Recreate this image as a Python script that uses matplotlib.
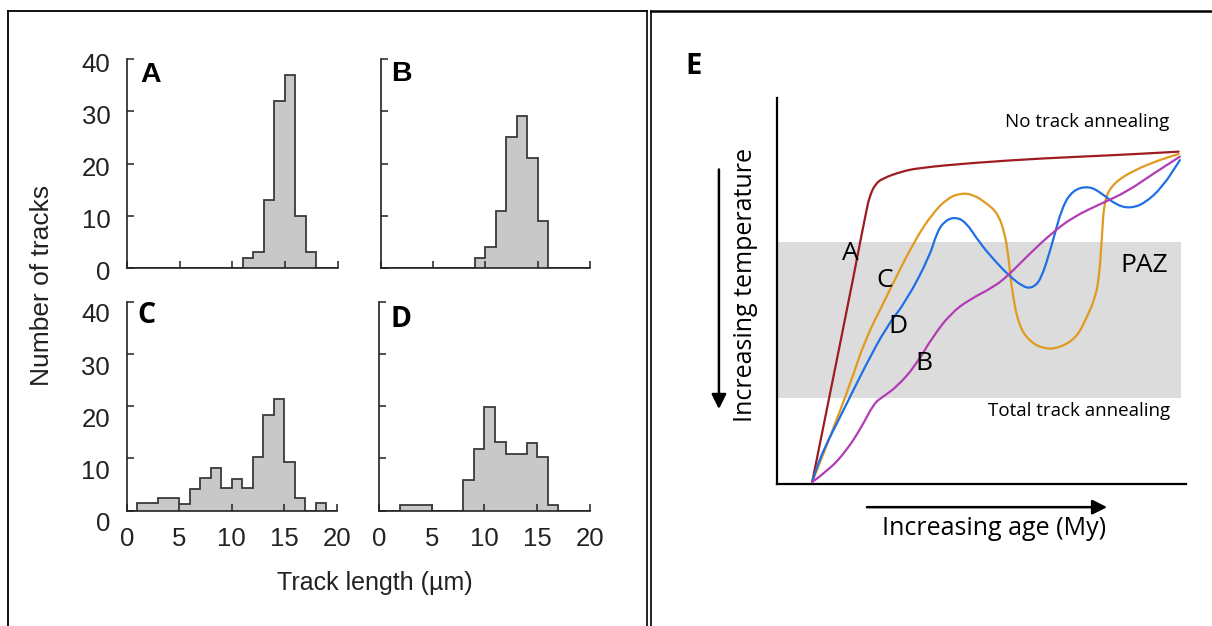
import numpy as np
import matplotlib
matplotlib.use("Agg")
import matplotlib.pyplot as plt
from matplotlib.lines import Line2D
from matplotlib.path import Path
from matplotlib.patches import PathPatch, Rectangle
from matplotlib.transforms import ScaledTranslation

# ---------------- data ----------------
bin_edges = list(range(0, 21))  # track length bins (µm)
counts_A = [0, 0, 0, 0, 0, 0, 0, 0, 0, 0, 0, 2, 3, 13, 32, 37, 10, 3, 0, 0]
counts_B = [0, 0, 0, 0, 0, 0, 0, 0, 0, 2, 4, 11, 25, 29, 21, 9, 0, 0, 0, 0]
counts_C = [0, 1.5, 1.5, 2.4, 2.4, 1.3, 4.1, 6.2, 8.1, 4.3, 6.1, 4.3, 10.2, 18.3, 21.4, 9.4, 2.4, 0, 1.4, 0]
counts_D = [0, 0, 1, 1, 1, 0, 0, 0, 5.8, 11.8, 19.9, 13.2, 10.8, 10.8, 12.9, 10.3, 1.1, 0, 0, 0]
panel_letters = ["A", "B", "C", "D"]
x_ticks = [0, 5, 10, 15, 20]
y_ticks = [0, 10, 20, 30, 40]

# Panel E: schematic thermal histories (age 0-100, temperature index 0-100)
curveA_x = [8.6, 17.6, 19.8, 21.8, 22.6, 24.0, 25.9, 30.3, 34.7, 47.8, 65.3, 82.9, 98.2]
curveA_y = [0.5, 47.7, 59.8, 70.5, 74.4, 77.7, 79.2, 80.9, 81.9, 83.2, 84.4, 85.2, 86.1]
curveC_x = [8.6, 12.7, 18.0, 21.5, 26.4, 27.9, 33.7, 38.1, 41.7, 44.7, 47.8, 51.3, 54.0, 55.7,
            56.6, 57.5, 59.2, 61.9, 65.3, 68.9, 73.2, 75.8, 77.6, 78.7, 79.4, 80.0, 82.2, 87.3, 93.4, 98.2]
curveC_y = [0.5, 11.4, 26.2, 37.3, 47.7, 51.0, 63.2, 70.2, 74.0, 75.3, 75.1, 72.7, 70.1, 64.9,
            58.9, 49.5, 40.8, 36.8, 35.0, 35.2, 37.8, 43.3, 47.7, 52.8, 63.2, 73.6, 77.9, 81.3, 83.9, 85.5]
curveD_x = [8.6, 10.1, 16.3, 21.5, 26.8, 31.5, 37.3, 39.0, 40.8, 43.4, 46.1, 49.6, 53.1, 56.6,
            60.1, 62.3, 64.5, 67.1, 69.7, 72.4, 76.3, 79.4, 82.9, 86.3, 89.9, 94.3, 98.5]
curveD_y = [0.5, 6.2, 19.2, 30.4, 40.8, 47.2, 58.9, 64.9, 68.0, 69.2, 68.0, 62.4, 58.0, 54.1,
            51.1, 50.7, 52.8, 61.5, 71.8, 76.2, 77.2, 75.3, 72.3, 71.4, 72.7, 77.0, 83.9]
curveB_x = [8.6, 12.7, 17.1, 20.7, 23.7, 25.9, 29.3, 33.7, 38.1, 42.5, 46.9, 53.1, 56.6, 61.9,
            67.1, 72.4, 79.4, 85.5, 91.6, 98.5]
curveB_y = [0.5, 3.6, 8.8, 14.8, 20.9, 22.6, 25.2, 30.4, 38.2, 44.2, 47.7, 51.1, 54.1, 59.8,
            64.9, 69.2, 72.7, 75.7, 80.1, 84.8]
curve_names = ["A", "C", "D", "B"]
curve_colors = ["#9e1b1f", "#e09a1e", "#1f6fe6", "#b23cb4"]
curve_label_pos = [(18.0, 59.8), (26.4, 52.8), (29.6, 40.9), (35.8, 31.1)]
paz_bottom, paz_top, paz_right = 22.4, 62.8, 98.7

W, H = 1212, 626
fig = plt.figure(figsize=(W / 100, H / 100), dpi=100)


def box(x0, ytop, x1, ybot):
    return [x0 / W, 1 - ybot / H, (x1 - x0) / W, (ybot - ytop) / H]


hist_font = "Liberation Sans"
boxes = [box(127, 59, 337.5, 268), box(380.7, 59, 590, 268),
         box(126.7, 302, 337, 510.5), box(379, 302, 590, 510.5)]
counts_all = [counts_A, counts_B, counts_C, counts_D]
letter_pos = [(0.114, 0.923), (0.10, 0.93), (0.096, 0.933), (0.106, 0.918)]
letter_fonts = ["Liberation Sans", "Liberation Sans", "Open Sans", "Open Sans"]
ylabel_shift_px = [-3, 0, -11, 0]
for i, (b, cnt) in enumerate(zip(boxes, counts_all)):
    ax = fig.add_axes(b)
    ax.stairs(cnt, bin_edges, fill=True, color="#c8c8c8", zorder=1)
    ax.stairs(cnt, bin_edges, color="#3a3a3a", linewidth=1.3, zorder=2)
    ax.set_xlim(0, 20)
    ax.set_ylim(0, 40)
    for s in ["top", "right"]:
        ax.spines[s].set_visible(False)
    for s in ["left", "bottom"]:
        ax.spines[s].set_linewidth(1.2)
        ax.spines[s].set_color("#222222")
    ax.set_xticks(x_ticks)
    ax.set_yticks(y_ticks)
    ax.tick_params(direction="in", length=5, width=1.1, color="#222222",
                   labelsize=18.5, pad=12)
    for lab in ax.get_xticklabels() + ax.get_yticklabels():
        lab.set_fontfamily(hist_font)
        lab.set_color("#222222")
    if ylabel_shift_px[i]:
        off = ScaledTranslation(0, ylabel_shift_px[i] / 100, fig.dpi_scale_trans)
        for lab in ax.get_yticklabels():
            lab.set_transform(lab.get_transform() + off)
    if i in (0, 1):
        ax.set_xticklabels([])
    if i in (1, 3):
        ax.set_yticklabels([])
    ax.text(letter_pos[i][0], letter_pos[i][1], panel_letters[i], transform=ax.transAxes,
            ha="center", va="center", fontsize=20.5, fontweight="bold",
            family=letter_fonts[i], color="black")

fig.text(42 / W, 1 - 285 / H, "Number of tracks", rotation=90, ha="center", va="center",
         fontsize=19, family=hist_font, color="#222222")
fig.text(375 / W, 1 - 583 / H, "Track length (µm)", ha="center", va="center",
         fontsize=18, family=hist_font, color="#222222")

# ---------------- panel E ----------------
axE = fig.add_axes(box(777, 98, 1186, 484))
axE.set_xlim(0, 100)
axE.set_ylim(0, 100)
for s in ["top", "right"]:
    axE.spines[s].set_visible(False)
for s in ["left", "bottom"]:
    axE.spines[s].set_linewidth(1.6)
    axE.spines[s].set_color("black")
axE.set_xticks([])
axE.set_yticks([])
axE.add_patch(Rectangle((0, paz_bottom), paz_right, paz_top - paz_bottom,
                        facecolor="#dcdcdc", edgecolor="none", zorder=0))


def smooth_path(xs, ys):
    pts = list(zip(xs, ys))
    verts = [pts[0]]
    codes = [Path.MOVETO]
    for j in range(1, len(pts) - 1):
        mid = ((pts[j][0] + pts[j + 1][0]) / 2, (pts[j][1] + pts[j + 1][1]) / 2)
        verts += [pts[j], mid]
        codes += [Path.CURVE3, Path.CURVE3]
    verts.append(pts[-1])
    codes.append(Path.LINETO)
    return Path(verts, codes)


curves = [(curveA_x, curveA_y), (curveC_x, curveC_y), (curveD_x, curveD_y), (curveB_x, curveB_y)]
for (cx, cy), col in zip(curves, curve_colors):
    axE.add_patch(PathPatch(smooth_path(cx, cy), facecolor="none", edgecolor=col,
                            linewidth=1.6, zorder=3, capstyle="round", joinstyle="round"))

efont = "Open Sans"
for name, (lx, ly) in zip(curve_names, curve_label_pos):
    axE.text(lx, ly, name, ha="center", va="center", fontsize=19, family=efont,
             color="black", zorder=5)
axE.text(89.7, 56.6, "PAZ", ha="center", va="center", fontsize=19, family=efont, zorder=5)
axE.text(95.8, 93.8, "No track annealing", ha="right", va="center", fontsize=13.5,
         family=efont)
axE.text(96.0, 18.9, "Total track annealing", ha="right", va="center", fontsize=13.5,
         family=efont)

axE.annotate("", xy=(-0.142, 0.187), xytext=(-0.142, 0.822), xycoords="axes fraction",
             textcoords="axes fraction", annotation_clip=False,
             arrowprops=dict(arrowstyle="-|>", color="black", lw=1.8, mutation_scale=22))
axE.annotate("", xy=(0.814, -0.060), xytext=(0.213, -0.060), xycoords="axes fraction",
             textcoords="axes fraction", annotation_clip=False,
             arrowprops=dict(arrowstyle="-|>", color="black", lw=1.8, mutation_scale=22))
axE.text(-0.076, 0.516, "Increasing temperature", rotation=90, ha="center", va="center",
         transform=axE.transAxes, fontsize=18, family=efont)
axE.text(0.531, -0.114, "Increasing age (My)", ha="center", va="center",
         transform=axE.transAxes, fontsize=18, family=efont)
fig.text(694 / W, 1 - 66 / H, "E", ha="center", va="center", fontsize=21,
         fontweight="bold", family=efont)

# ---------------- panel frames ----------------
def fline(x0, y0, x1, y1, lw):
    fig.add_artist(Line2D([x0 / W, x1 / W], [1 - y0 / H, 1 - y1 / H], transform=fig.transFigure,
                          color="black", linewidth=lw, solid_capstyle="projecting"))


fline(8, 11, 8, 640, 1.3)
fline(8, 11, 647, 11, 1.3)
fline(647, 11, 647, 640, 1.2)
fline(650.5, 10.5, 650.5, 640, 1.2)
fline(650.5, 10.5, 1220, 10.5, 1.8)

fig.savefig("out.png", dpi=100)
